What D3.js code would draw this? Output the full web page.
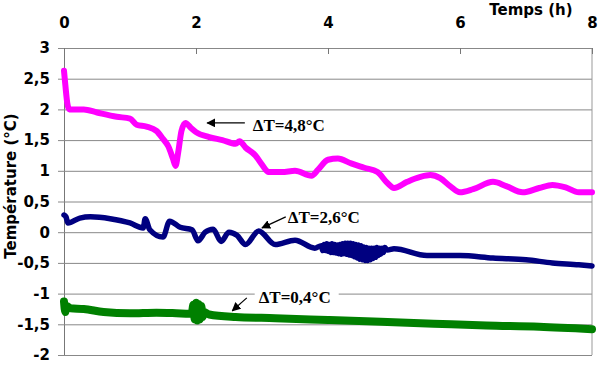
<!DOCTYPE html>
<html>
<head>
<meta charset="utf-8">
<script src="https://cdn.jsdelivr.net/npm/d3@7"></script>
<style>
  body { margin: 0; background: #fff; }
  text { font-family: "DejaVu Sans", Arial, sans-serif; font-weight: bold; }
  .note { font-family: "Liberation Serif", "Times New Roman", serif; }
</style>
</head>
<body>
<div id="chart"></div>
<script>
// values: [time (h), temperature (°C)]
const magenta = [[0,2.63],[0.02,2.4],[0.05,2.1],[0.08,2.0],[0.3,2.0],[0.5,1.95],[0.8,1.88],[1.0,1.85],
  [1.1,1.75],[1.25,1.72],[1.4,1.65],[1.5,1.52],[1.58,1.4],[1.65,1.2],[1.69,1.08],[1.73,1.3],[1.78,1.65],
  [1.84,1.78],[1.92,1.7],[2.0,1.63],[2.2,1.55],[2.4,1.5],[2.6,1.44],[2.66,1.48],[2.75,1.38],[2.9,1.25],
  [3.0,1.1],[3.1,0.98],[3.3,0.98],[3.5,1.0],[3.75,0.92],[3.85,1.02],[4.0,1.18],[4.15,1.2],[4.35,1.12],
  [4.55,1.05],[4.75,0.98],[4.9,0.8],[5.0,0.72],[5.2,0.82],[5.4,0.9],[5.55,0.93],[5.7,0.88],[5.85,0.75],
  [6.0,0.65],[6.2,0.7],[6.5,0.82],[6.7,0.75],[6.95,0.65],[7.2,0.72],[7.4,0.77],[7.6,0.73],[7.8,0.65],[8.0,0.65]]

const navy = [[0,0.28],[0.03,0.25],[0.06,0.15],[0.24,0.23],[0.4,0.25],[0.7,0.22],[1.0,0.15],[1.2,0.07],
  [1.23,0.22],[1.3,0.04],[1.5,-0.08],[1.6,0.18],[1.76,0.08],[1.94,0.04],[2.03,-0.14],[2.14,0.0],[2.26,0.05],
  [2.38,-0.15],[2.5,0.0],[2.62,-0.05],[2.75,-0.2],[2.95,0.02],[3.2,-0.2],[3.5,-0.13],[3.8,-0.26],
  [3.9,-0.22],[3.92,-0.30],[3.94,-0.20],[3.96,-0.30],[3.98,-0.19],[4.0,-0.31],[4.02,-0.20],[4.04,-0.33],
  [4.06,-0.19],[4.08,-0.33],[4.10,-0.20],[4.12,-0.34],[4.14,-0.21],[4.16,-0.35],[4.18,-0.20],[4.20,-0.36],
  [4.22,-0.19],[4.24,-0.35],[4.26,-0.18],[4.28,-0.36],[4.30,-0.18],[4.32,-0.37],[4.34,-0.18],[4.36,-0.38],
  [4.38,-0.19],[4.40,-0.40],[4.42,-0.20],[4.44,-0.42],[4.46,-0.21],[4.48,-0.44],[4.50,-0.22],[4.52,-0.45],
  [4.54,-0.24],[4.56,-0.46],[4.58,-0.25],[4.60,-0.46],[4.62,-0.26],[4.64,-0.45],[4.66,-0.26],[4.68,-0.43],
  [4.70,-0.26],[4.72,-0.41],[4.74,-0.25],[4.76,-0.38],[4.78,-0.26],[4.80,-0.36],[4.82,-0.26],[4.84,-0.33],
  [4.86,-0.25],[4.9,-0.29],[5.0,-0.27],[5.5,-0.38],[6.0,-0.38],[6.5,-0.42],[7.0,-0.45],[7.4,-0.5],
  [7.8,-0.53],[8.0,-0.55]]

const green = [[0,-1.13],[0.02,-1.3],[0.04,-1.2],[0.1,-1.24],[0.3,-1.25],[0.6,-1.3],[1.0,-1.32],[1.4,-1.31],
  [1.7,-1.32],[1.9,-1.33],[1.94,-1.30],[1.96,-1.18],[1.98,-1.42],[2.00,-1.15],[2.02,-1.44],[2.04,-1.17],
  [2.06,-1.42],[2.08,-1.2],[2.10,-1.38],[2.12,-1.3],[2.2,-1.34],[2.6,-1.38],[3.2,-1.4],[4.0,-1.43],
  [4.8,-1.46],[5.6,-1.49],[6.4,-1.52],[7.2,-1.54],[8.0,-1.58]]

const xTicks = [0, 2, 4, 6, 8]
const yTicks = [3, 2.5, 2, 1.5, 1, 0.5, 0, -0.5, -1, -1.5, -2]
const notes = ['ΔT=4,8°C', 'ΔT=2,6°C', 'ΔT=0,4°C']

const MARGIN = {TOP: 48, BOTTOM: 16, LEFT: 64, RIGHT: 7}
const WIDTH = 599 - MARGIN.LEFT - MARGIN.RIGHT
const HEIGHT = 371 - MARGIN.TOP - MARGIN.BOTTOM

const svg = d3.select('#chart')
  .append('svg')
  .attr('width', 599)
  .attr('height', 371)

svg.append('defs').append('marker')
  .attr('id', 'head')
  .attr('viewBox', '0 0 10 10')
  .attr('refX', 9).attr('refY', 5)
  .attr('markerWidth', 9).attr('markerHeight', 9)
  .attr('markerUnits', 'userSpaceOnUse')
  .attr('orient', 'auto')
  .append('path')
  .attr('d', 'M0,0 L10,5 L0,10 z')
  .attr('fill', '#000')

const g = svg.append('g')
  .attr('transform', `translate(${MARGIN.LEFT}, ${MARGIN.TOP})`)

const x = d3.scaleLinear().domain([0, 8]).range([0, WIDTH])
const y = d3.scaleLinear().domain([-2, 3]).range([HEIGHT, 0])
const fmt = d => String(d).replace('.', ',')

// gridlines + left axis
const yAxis = g.append('g')
  .call(d3.axisLeft(y).tickValues(yTicks).tickFormat(fmt).tickSize(6).tickPadding(8))
yAxis.select('.domain').attr('stroke', '#777')
yAxis.selectAll('.tick line').attr('stroke', '#888')
  .attr('x1', -6)
  .attr('x2', WIDTH)
yAxis.selectAll('text').attr('font-size', 15).attr('fill', '#000')

// right border
g.append('line')
  .attr('x1', WIDTH).attr('x2', WIDTH)
  .attr('y1', 0).attr('y2', HEIGHT)
  .attr('stroke', '#999')

// top axis, ticks pointing into the plot
const xAxis = g.append('g')
  .call(d3.axisTop(x).tickValues(xTicks).tickSize(-6).tickPadding(20))
xAxis.select('.domain').attr('stroke', '#888')
xAxis.selectAll('.tick line').attr('stroke', '#777')
xAxis.selectAll('text').attr('font-size', 15).attr('fill', '#000')

svg.append('text')
  .attr('x', 531).attr('y', 15)
  .attr('text-anchor', 'middle')
  .attr('font-size', 15)
  .text('Temps (h)')

svg.append('text')
  .attr('transform', 'translate(16, 186) rotate(-90)')
  .attr('text-anchor', 'middle')
  .attr('font-size', 15)
  .text('Température (°C)')

const line = d3.line()
  .x(d => x(d[0]))
  .y(d => y(d[1]))
  .curve(d3.curveMonotoneX)

const series = [
  {data: magenta, color: '#ff00ff', w: 6},
  {data: navy, color: '#000080', w: 5.5},
  {data: green, color: '#008000', w: 8}
]

g.selectAll('path.serie')
  .data(series)
  .enter()
  .append('path')
  .attr('class', 'serie')
  .attr('d', d => line(d.data))
  .attr('fill', 'none')
  .attr('stroke', d => d.color)
  .attr('stroke-width', d => d.w)
  .attr('stroke-linejoin', 'round')
  .attr('stroke-linecap', 'round')

// annotations, placed in data units
const marks = [
  {text: notes[0], tx: 2.86, ty: 1.75, from: [2.74, 1.78], to: [2.17, 1.78]},
  {text: notes[1], tx: 3.39, ty: 0.25, from: [3.36, 0.25], to: [3.0, 0.07]},
  {text: notes[2], tx: 2.95, ty: -1.06, from: [2.77, -1.07], to: [2.55, -1.28]}
]

const ann = g.selectAll('g.note')
  .data(marks)
  .enter()
  .append('g')
  .attr('class', 'note')

ann.append('rect')
  .attr('x', d => x(d.tx) - 4)
  .attr('y', d => y(d.ty) - 10)
  .attr('width', 84)
  .attr('height', 20)
  .attr('fill', '#fff')

ann.append('text')
  .attr('class', 'note')
  .attr('x', d => x(d.tx))
  .attr('y', d => y(d.ty))
  .attr('dy', '0.35em')
  .attr('font-size', 17)
  .text(d => d.text)

ann.append('line')
  .attr('x1', d => x(d.from[0])).attr('y1', d => y(d.from[1]))
  .attr('x2', d => x(d.to[0])).attr('y2', d => y(d.to[1]))
  .attr('stroke', '#000')
  .attr('stroke-width', 1.2)
  .attr('marker-end', 'url(#head)')
</script>
</body>
</html>
